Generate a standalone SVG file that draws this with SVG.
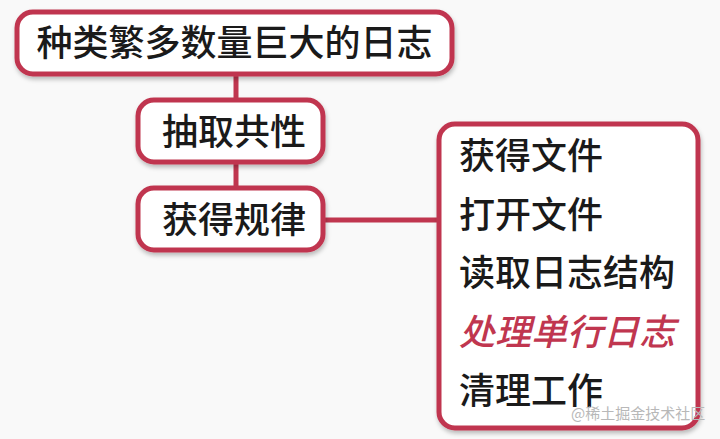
<svg xmlns="http://www.w3.org/2000/svg" width="720" height="439" viewBox="0 0 720 439">
  <defs>
    <filter id="sh" x="-10%" y="-10%" width="120%" height="130%">
      <feDropShadow dx="1" dy="3" stdDeviation="2" flood-color="#000" flood-opacity="0.25"/>
    </filter>
  </defs>
  <style>
    .box { fill: #ffffff; stroke: #c0364f; stroke-width: 5; filter: url(#sh); }
    .line { stroke: #c0364f; stroke-width: 5; fill: none; }
    .t { font-family: "Noto Sans CJK SC", "Noto Sans", sans-serif; font-size: 36px; font-weight: 500; fill: #1a1a1a; }
    .em { fill: #c0364f; font-style: italic; }
    .wm { font-family: "Noto Sans CJK SC", sans-serif; font-size: 15px; fill: #b8b8b8; }
  </style>
  <rect width="720" height="439" fill="#f9f9f9"/>
  <g id="connectors">
    <line class="line" x1="236" y1="74" x2="236" y2="190"/>
    <line class="line" x1="322" y1="220" x2="440" y2="220"/>
  </g>
  <g id="node-logs">
    <rect class="box" x="17" y="12" width="435" height="62" rx="16"/>
    <text class="t" x="234.5" y="56" text-anchor="middle">种类繁多数量巨大的日志</text>
  </g>
  <g id="node-common">
    <rect class="box" x="138" y="100" width="185" height="62" rx="16"/>
    <text class="t" x="234" y="145" text-anchor="middle">抽取共性</text>
  </g>
  <g id="node-rules">
    <rect class="box" x="138" y="188" width="185" height="62" rx="16"/>
    <text class="t" x="234" y="233" text-anchor="middle">获得规律</text>
  </g>
  <g id="node-steps">
    <rect class="box" x="439" y="124" width="259" height="304" rx="16"/>
    <text class="t" x="459" y="169">获得文件</text>
    <text class="t" x="459" y="228">打开文件</text>
    <text class="t" x="459" y="286">读取日志结构</text>
    <text class="t em" x="459" y="345">处理单行日志</text>
    <text class="t" x="459" y="404">清理工作</text>
  </g>
  <text class="wm" x="571" y="419">@稀土掘金技术社区</text>
</svg>
